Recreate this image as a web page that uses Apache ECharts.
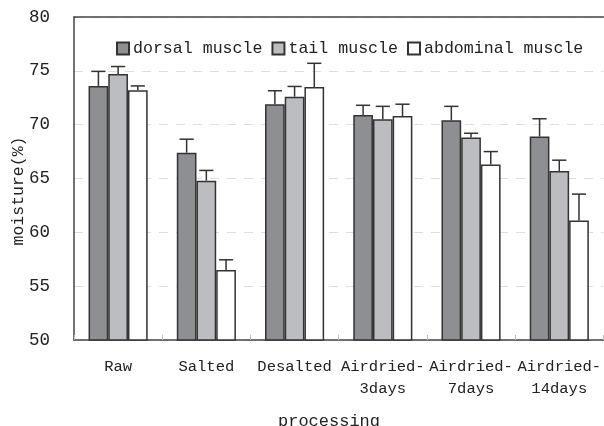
<!DOCTYPE html>
<html>
<head>
<meta charset="utf-8">
<script src="https://cdn.jsdelivr.net/npm/echarts@6/dist/echarts.min.js"></script>
<style>
  html, body { margin: 0; padding: 0; background: #fff; }
  #chart { width: 604px; height: 426px; }
</style>
</head>
<body>
<div id="chart"></div>
<script>
// Moisture content by processing step
const categories = ['Raw', 'Salted', 'Desalted', 'Airdried-\n3days', 'Airdried-\n7days', 'Airdried-\n14days'];
const seriesNames = ['dorsal muscle', 'tail muscle', 'abdominal muscle'];
const dorsal = [73.6, 67.4, 71.9, 70.9, 70.4, 68.9];
const dorsalErr = [1.35, 1.25, 1.25, 0.9, 1.3, 1.65];
const tail = [74.7, 64.8, 72.6, 70.5, 68.8, 65.7];
const tailErr = [0.7, 0.95, 0.95, 1.2, 0.4, 1.0];
const abdominal = [73.2, 56.5, 73.5, 70.8, 66.3, 61.1];
const abdominalErr = [0.4, 0.95, 2.2, 1.1, 1.2, 2.45];
const yTicks = [50, 55, 60, 65, 70, 75, 80];

const FONT = 'Liberation Mono';
const INK = '#333333';
const colors = ['#8e8f93', '#bcbdc1', '#ffffff'];
const values = [dorsal, tail, abdominal];
const errors = [dorsalErr, tailErr, abdominalErr];
const CAT_GAP = 0.33;

const chart = echarts.init(document.getElementById('chart'), null, { renderer: 'canvas' });

const barSeries = values.map((vals, s) => ({
  name: seriesNames[s],
  type: 'bar',
  data: vals,
  barGap: '0%',
  barCategoryGap: (CAT_GAP * 100) + '%',
  itemStyle: { color: colors[s], borderColor: INK, borderWidth: 1.5 },
  z: 2
}));

const errorSeries = values.map((vals, s) => ({
  type: 'custom',
  name: seriesNames[s] + ' error',
  data: vals.map((v, i) => [i, v, errors[s][i]]),
  encode: { x: 0, y: 1 },
  z: 3,
  silent: true,
  renderItem: function (params, api) {
    const idx = api.value(0);
    const v = api.value(1);
    const e = api.value(2);
    const band = api.size([1, 0])[0];
    const bw = band * (1 - CAT_GAP) / 3;
    const off = (s - 1) * bw;
    const base = api.coord([idx, v]);
    const top = api.coord([idx, v + e]);
    const x = base[0] + off;
    const half = bw * 0.36;
    const style = { stroke: INK, lineWidth: 1.5, fill: null };
    return {
      type: 'group',
      children: [
        { type: 'line', shape: { x1: x, y1: base[1], x2: x, y2: top[1] }, style: style },
        { type: 'line', shape: { x1: x - half, y1: top[1], x2: x + half, y2: top[1] }, style: style }
      ]
    };
  }
}));

chart.setOption({
  animation: false,
  backgroundColor: '#ffffff',
  textStyle: { fontFamily: FONT, color: '#222' },
  legend: {
    data: seriesNames,
    left: 111,
    top: 35,
    icon: 'rect',
    itemWidth: 12,
    itemHeight: 12,
    itemGap: 9,
    textStyle: { fontFamily: FONT, fontSize: 16.6, color: '#222', padding: [0, 0, 0, -1] }
  },
  grid: { left: 74, top: 17, width: 531, height: 323 },
  xAxis: [
    {
      type: 'category',
      data: categories,
      axisLine: { lineStyle: { color: '#444', width: 1.5 } },
      axisTick: { show: true, inside: true, length: 5, lineStyle: { color: '#bbb' } },
      axisLabel: { interval: 0, fontFamily: FONT, fontSize: 15.5, color: '#222', margin: 16, lineHeight: 22 }
    },
    {
      // top frame line
      type: 'category',
      data: categories,
      position: 'top',
      axisLine: { show: true, lineStyle: { color: '#444', width: 1.5 } },
      axisTick: { show: false },
      axisLabel: { show: false }
    }
  ],
  yAxis: {
    type: 'value',
    min: yTicks[0],
    max: yTicks[yTicks.length - 1],
    interval: 5,
    axisLine: { show: true, lineStyle: { color: '#444', width: 1.5 } },
    axisTick: { show: false },
    axisLabel: { fontFamily: FONT, fontSize: 17.5, color: '#222', margin: 24 },
    splitLine: { show: true, lineStyle: { color: '#dedede', type: [9, 8], width: 1 } }
  },
  graphic: [
    {
      type: 'text',
      x: 19, y: 191,
      rotation: Math.PI / 2,
      style: { text: 'moisture(%)', fontFamily: FONT, fontSize: 16.5, fill: '#222', align: 'center', verticalAlign: 'middle' }
    },
    {
      type: 'text',
      x: 329, y: 421,
      style: { text: 'processing', fontFamily: FONT, fontSize: 17, fill: '#222', align: 'center', verticalAlign: 'middle' }
    }
  ],
  series: barSeries.concat(errorSeries)
});
</script>
</body>
</html>
